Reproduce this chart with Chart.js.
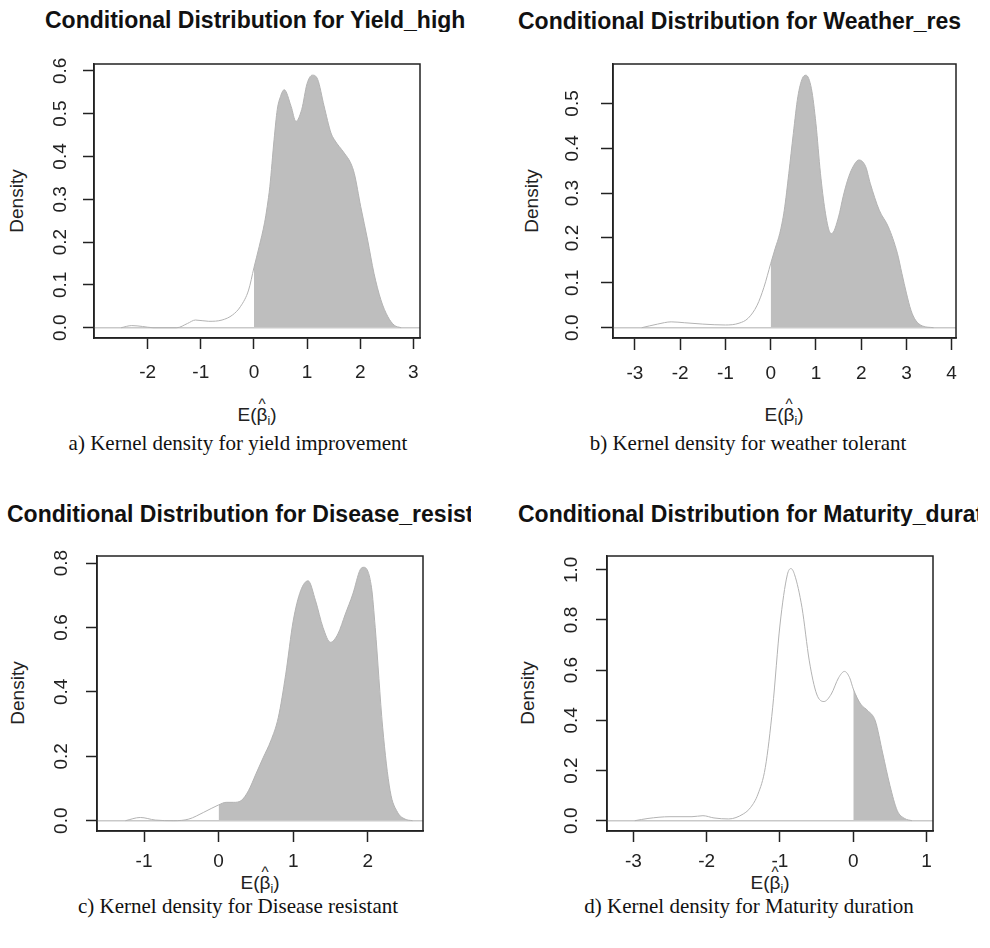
<!DOCTYPE html>
<html>
<head>
<meta charset="utf-8">
<script src="https://cdn.jsdelivr.net/npm/chart.js@4.4.1/dist/chart.umd.min.js"></script>
<style>
html,body{margin:0;padding:0;background:#fff;}
body{width:990px;height:948px;position:relative;overflow:hidden;font-family:"Liberation Sans",Arial,sans-serif;color:#111;}
canvas{position:absolute;}
.ttl{position:absolute;font-weight:bold;font-size:23px;line-height:1;white-space:nowrap;overflow:hidden;}
.ylab{position:absolute;font-size:19px;line-height:1;white-space:nowrap;transform:translate(-50%,-50%) rotate(-90deg);color:#222;}
.xlab{position:absolute;font-size:19px;line-height:1;white-space:nowrap;transform:translate(-50%,-50%);color:#222;}
.xlab .b{position:relative;}
.xlab .hat{position:absolute;left:50%;top:-0.5em;transform:translateX(-50%);font-size:0.8em;}
.xlab .sub{position:relative;top:0.3em;font-size:0.65em;}
.cap{position:absolute;font-family:"Liberation Serif","Times New Roman",serif;font-size:21px;line-height:1;white-space:nowrap;transform:translate(-50%,-50%);color:#111;}
</style>
</head>
<body>

<div class="ttl" style="left:45px;top:9px;width:440px">Conditional Distribution for Yield_high</div>
<div class="ttl" style="left:518px;top:10px;width:463px">Conditional Distribution for Weather_res</div>
<div class="ttl" style="left:7px;top:503px;width:464px">Conditional Distribution for Disease_resist</div>
<div class="ttl" style="left:518px;top:503px;width:460px">Conditional Distribution for Maturity_durat</div>

<div class="ylab" style="left:16px;top:201px">Density</div>
<div class="ylab" style="left:531px;top:201px">Density</div>
<div class="ylab" style="left:17px;top:693px">Density</div>
<div class="ylab" style="left:527px;top:693px">Density</div>

<div class="xlab" style="left:257px;top:414px">E(<span class="b">β<span class="hat">^</span></span><span class="sub">i</span>)</div>
<div class="xlab" style="left:784px;top:414px">E(<span class="b">β<span class="hat">^</span></span><span class="sub">i</span>)</div>
<div class="xlab" style="left:260px;top:882px">E(<span class="b">β<span class="hat">^</span></span><span class="sub">i</span>)</div>
<div class="xlab" style="left:770px;top:882px">E(<span class="b">β<span class="hat">^</span></span><span class="sub">i</span>)</div>

<div class="cap" style="left:238px;top:443px">a) Kernel density for yield improvement</div>
<div class="cap" style="left:748px;top:443px">b) Kernel density for weather tolerant</div>
<div class="cap" style="left:238px;top:906px">c) Kernel density for Disease resistant</div>
<div class="cap" style="left:749px;top:906px">d) Kernel density for Maturity duration</div>

<script>
// a) Yield_high
const yieldX = [-2.5, -2.3, -2.1, -1.9, -1.45, -1.25, -1.1, -0.85, -0.6, -0.4, -0.25, -0.1, 0, 0.1, 0.2, 0.25, 0.3, 0.38, 0.44, 0.5, 0.57, 0.7, 0.79, 0.9, 1.0, 1.1, 1.2, 1.32, 1.45, 1.51, 1.7, 1.82, 1.89, 2.01, 2.14, 2.26, 2.39, 2.52, 2.64, 2.77];
const yieldY = [0, 0.005, 0.003, 0, 0, 0.01, 0.018, 0.015, 0.018, 0.03, 0.05, 0.088, 0.14, 0.19, 0.245, 0.283, 0.33, 0.44, 0.51, 0.54, 0.556, 0.517, 0.482, 0.51, 0.57, 0.59, 0.58, 0.518, 0.455, 0.44, 0.408, 0.385, 0.36, 0.283, 0.205, 0.127, 0.065, 0.026, 0.006, 0];
const yieldXTicks = [-2, -1, 0, 1, 2, 3];
const yieldYTicks = [0, 0.1, 0.2, 0.3, 0.4, 0.5, 0.6];

// b) Weather_res
const weatherX = [-2.85, -2.5, -2.2, -1.9, -1.5, -1.0, -0.7, -0.5, -0.3, -0.15, 0, 0.1, 0.2, 0.3, 0.4, 0.5, 0.6, 0.7, 0.78, 0.9, 1.0, 1.1, 1.2, 1.3, 1.35, 1.5, 1.6, 1.7, 1.8, 1.95, 2.1, 2.2, 2.4, 2.6, 2.8, 2.9, 3.0, 3.1, 3.2, 3.35, 3.6];
const weatherY = [0, 0.008, 0.013, 0.011, 0.008, 0.006, 0.01, 0.021, 0.05, 0.09, 0.143, 0.177, 0.21, 0.262, 0.344, 0.433, 0.515, 0.556, 0.563, 0.533, 0.455, 0.344, 0.262, 0.214, 0.21, 0.247, 0.292, 0.329, 0.355, 0.374, 0.359, 0.322, 0.262, 0.225, 0.166, 0.121, 0.077, 0.039, 0.017, 0.004, 0];
const weatherXTicks = [-3, -2, -1, 0, 1, 2, 3, 4];
const weatherYTicks = [0, 0.1, 0.2, 0.3, 0.4, 0.5];

// c) Disease_resist
const diseaseX = [-1.25, -1.05, -0.85, -0.6, -0.4, -0.2, 0, 0.1, 0.2, 0.3, 0.4, 0.5, 0.6, 0.7, 0.8, 0.9, 1.0, 1.1, 1.2, 1.3, 1.4, 1.5, 1.6, 1.7, 1.8, 1.9, 1.95, 2.05, 2.1, 2.2, 2.3, 2.4, 2.5, 2.6];
const diseaseY = [0, 0.01, 0.002, 0, 0.005, 0.026, 0.049, 0.057, 0.057, 0.062, 0.093, 0.145, 0.197, 0.248, 0.32, 0.455, 0.62, 0.714, 0.745, 0.683, 0.6, 0.554, 0.58, 0.642, 0.704, 0.78, 0.787, 0.725, 0.6, 0.29, 0.093, 0.026, 0.005, 0];
const diseaseXTicks = [-1, 0, 1, 2];
const diseaseYTicks = [0, 0.2, 0.4, 0.6, 0.8];

// d) Maturity_durat
const maturityX = [-2.98, -2.8, -2.5, -2.2, -2.05, -1.9, -1.7, -1.5, -1.4, -1.3, -1.2, -1.1, -1.0, -0.9, -0.85, -0.8, -0.7, -0.6, -0.5, -0.4, -0.3, -0.2, -0.12, -0.05, 0, 0.1, 0.2, 0.3, 0.4, 0.5, 0.6, 0.7, 0.8];
const maturityY = [0, 0.009, 0.016, 0.016, 0.02, 0.011, 0.007, 0.027, 0.053, 0.106, 0.212, 0.45, 0.78, 0.98, 1.005, 0.98, 0.85, 0.637, 0.505, 0.475, 0.505, 0.57, 0.595, 0.57, 0.525, 0.465, 0.438, 0.398, 0.27, 0.14, 0.04, 0.009, 0];
const maturityXTicks = [-3, -2, -1, 0, 1];
const maturityYTicks = [0, 0.2, 0.4, 0.6, 0.8, 1.0];

// axis limits (R pads the data range by 4%)
const panels = [
  {xs: yieldX, ys: yieldY, xTicks: yieldXTicks, yTicks: yieldYTicks, xLim: [-3.01, 3.126], yLim: [-0.024, 0.616],
   box: {l: 94, t: 64, r: 420, b: 338}, tl: 11, xPad: 12, yPad: 9},
  {xs: weatherX, ys: weatherY, xTicks: weatherXTicks, yTicks: weatherYTicks, xLim: [-3.486, 4.096], yLim: [-0.023, 0.588],
   box: {l: 613, t: 64, r: 956, b: 338}, tl: 12, xPad: 12, yPad: 15},
  {xs: diseaseX, ys: diseaseY, xTicks: diseaseXTicks, yTicks: diseaseYTicks, xLim: [-1.631, 2.741], yLim: [-0.032, 0.822],
   box: {l: 97, t: 556, r: 423, b: 831}, tl: 11, xPad: 8, yPad: 11},
  {xs: maturityX, ys: maturityY, xTicks: maturityXTicks, yTicks: maturityYTicks, xLim: [-3.359, 1.087], yLim: [-0.041, 1.055],
   box: {l: 607, t: 556, r: 933, b: 831}, tl: 11, xPad: 8, yPad: 11}
];

const rBox = {
  id: 'rBox',
  afterDraw(chart){
    const {ctx, chartArea: a} = chart;
    ctx.save();
    ctx.strokeStyle = '#222';
    ctx.lineWidth = 1.5;
    ctx.strokeRect(a.left, a.top, a.right - a.left, a.bottom - a.top);
    ctx.restore();
  }
};

function axisStyle(p){
  return {
    grid: {display: true, drawOnChartArea: false, drawTicks: true, tickLength: p.tl, tickColor: '#222', tickWidth: 1.5},
    border: {display: true, color: '#222', width: 1.5}
  };
}

function makeChart(p){
  const c = document.createElement('canvas');
  const w = p.box.r - p.box.l + 90, h = p.box.b - p.box.t + 90;
  c.width = w; c.height = h;
  c.style.width = w + 'px'; c.style.height = h + 'px';
  c.style.left = (p.box.l - 70) + 'px';
  c.style.top = (p.box.t - 30) + 'px';
  document.body.appendChild(c);

  const pts = p.xs.map((x, i) => ({x, y: p.ys[i]}));
  const font = {family: '"Liberation Sans", Arial, sans-serif', size: 19};

  new Chart(c, {
    type: 'line',
    data: {
      datasets: [
        {data: pts, borderColor: '#b3b3b3', borderWidth: 1, pointRadius: 0, fill: false, cubicInterpolationMode: 'monotone', order: 0},
        {data: [{x: p.xLim[0], y: 0}, {x: p.xLim[1], y: 0}], borderColor: '#c9c9c9', borderWidth: 1.5, pointRadius: 0, fill: false, order: 1},
        {data: pts.filter(d => d.x >= 0), borderWidth: 0, borderColor: 'rgba(0,0,0,0)', backgroundColor: '#bebebe', fill: 'origin', pointRadius: 0, cubicInterpolationMode: 'monotone', order: 2}
      ]
    },
    options: {
      responsive: false,
      animation: false,
      events: [],
      layout: {padding: {left: 10, top: 30, right: 20, bottom: 10}},
      plugins: {legend: {display: false}, tooltip: {enabled: false}},
      scales: {
        x: Object.assign({
          type: 'linear', min: p.xLim[0], max: p.xLim[1],
          afterFit: s => { s.height = 50; },
          afterBuildTicks: s => { s.ticks = p.xTicks.map(v => ({value: v})); },
          ticks: {color: '#222', font, padding: p.xPad, maxRotation: 0, autoSkip: false, callback: v => String(v)}
        }, axisStyle(p)),
        y: Object.assign({
          type: 'linear', min: p.yLim[0], max: p.yLim[1],
          afterFit: s => { s.width = 60; },
          afterBuildTicks: s => { s.ticks = p.yTicks.map(v => ({value: v})); },
          ticks: {color: '#222', font, padding: p.yPad, minRotation: 90, maxRotation: 90, crossAlign: 'center', autoSkip: false, callback: v => v.toFixed(1)}
        }, axisStyle(p))
      }
    },
    plugins: [rBox]
  });
}

panels.forEach(makeChart);
</script>
</body>
</html>
